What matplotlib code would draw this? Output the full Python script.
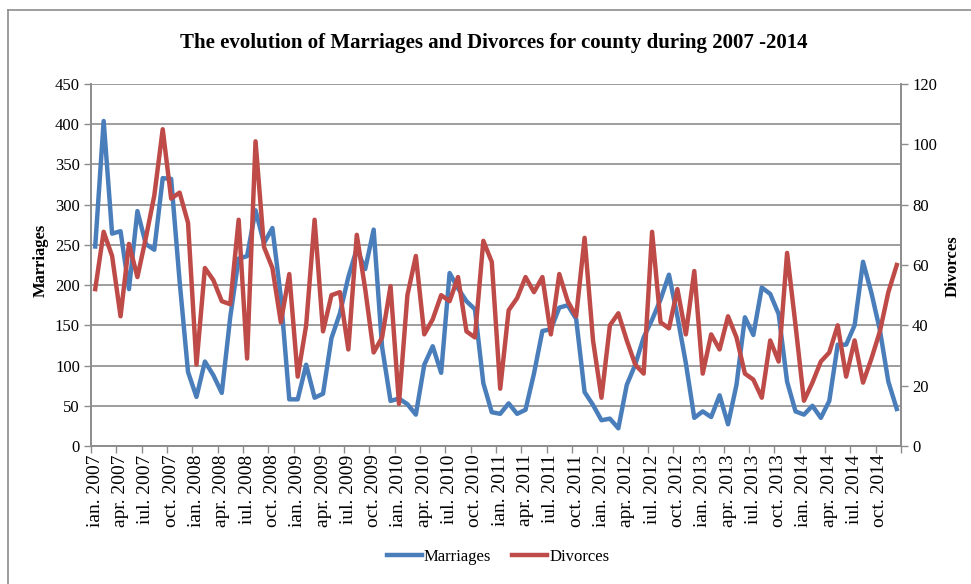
import matplotlib.pyplot as plt
from matplotlib.lines import Line2D

# monthly counts, ian. 2007 .. dec. 2014
years = [2007, 2008, 2009, 2010, 2011, 2012, 2013, 2014]
quarter_months = ['ian.', 'apr.', 'iul.', 'oct.']

marriages = [
    248, 404, 264, 267, 195, 292, 251, 244, 333, 332, 205, 92,
    61, 105, 88, 66, 160, 233, 236, 293, 252, 271, 185, 58,
    58, 101, 60, 65, 134, 165, 210, 245, 220, 269, 123, 56,
    59, 52, 39, 101, 124, 91, 215, 196, 180, 170, 78, 42,
    40, 53, 40, 45, 90, 143, 145, 172, 175, 158, 67, 51,
    32, 34, 22, 76, 101, 135, 157, 182, 213, 161, 103, 35,
    43, 36, 63, 27, 76, 160, 138, 197, 189, 164, 80, 43,
    39, 50, 35, 56, 126, 126, 150, 229, 190, 144, 80, 46,
]
divorces = [
    52, 71, 63, 43, 67, 56, 69, 83, 105, 82, 84, 74,
    27, 59, 55, 48, 47, 75, 29, 101, 66, 59, 41, 57,
    23, 40, 75, 38, 50, 51, 32, 70, 52, 31, 36, 53,
    14, 50, 63, 37, 42, 50, 48, 56, 38, 36, 68, 61,
    19, 45, 49, 56, 51, 56, 37, 57, 48, 43, 69, 35,
    16, 40, 44, 35, 27, 24, 71, 41, 39, 52, 37, 58,
    24, 37, 32, 43, 36, 24, 22, 16, 35, 28, 64, 40,
    15, 21, 28, 31, 40, 23, 35, 21, 29, 38, 51, 60,
]

tick_labels = [f'{m} {y}' for y in years for m in quarter_months]

BLUE = '#4A7EBB'
RED = '#BE4B48'
GRID = '#8C8C8C'
SERIF = ['Liberation Serif', 'DejaVu Serif']

plt.rcParams['font.family'] = SERIF

W, H = 971, 584
fig = plt.figure(figsize=(W / 100, H / 100), dpi=100)
ax = fig.add_axes([91 / W, 1 - 446 / H, 810 / W, 362 / H])
ax2 = ax.twinx()

x = list(range(len(marriages)))
ax.plot(x, marriages, color=BLUE, lw=3.2, solid_joinstyle='round', zorder=3)
ax2.plot(x, divorces, color=RED, lw=3.2, solid_joinstyle='round', zorder=3)

ax.set_xlim(-0.5, len(marriages) - 0.5)
ax.set_ylim(0, 450)
ax2.set_ylim(0, 120)
ax.set_yticks(range(0, 451, 50))
ax2.set_yticks(range(0, 121, 20))

# category labels every 3 months, tick marks on category boundaries
ax.set_xticks(range(0, len(marriages), 3))
ax.set_xticklabels(tick_labels, rotation=90, fontsize=14)
ax.set_xticks([i - 0.5 for i in range(0, len(marriages) + 1, 3)], minor=True)
ax.tick_params(axis='x', which='major', length=0, pad=6)
ax.tick_params(axis='x', which='minor', length=5, color=GRID, width=1)
ax.tick_params(axis='y', length=5, color=GRID, width=1, labelsize=12, pad=3)
ax2.tick_params(axis='y', length=5, color=GRID, width=1, labelsize=12, pad=3)

ax.grid(axis='y', color=GRID, lw=1.2)
ax.set_axisbelow(True)
for a in (ax, ax2):
    a.spines['top'].set_visible(False)
    for s in ('left', 'right', 'bottom'):
        a.spines[s].set_color(GRID)
        a.spines[s].set_linewidth(1.2)

# axis titles
fig.text(41 / W, 1 - 260 / H, 'Marriages', rotation=90, ha='center', va='center',
         fontsize=12, fontweight='bold')
fig.text(953 / W, 1 - 266 / H, 'Divorces', rotation=90, ha='center', va='center',
         fontsize=12, fontweight='bold')

fig.text(494 / W, 1 - 43 / H, 'The evolution of Marriages and Divorces for county during 2007 -2014',
         ha='center', va='center', fontsize=15, fontweight='bold')

handles = [Line2D([], [], color=BLUE, lw=3.2), Line2D([], [], color=RED, lw=3.2)]
fig.legend(handles, ['Marriages', 'Divorces'], loc='center', bbox_to_anchor=(498 / W, 1 - 557 / H),
           ncol=2, frameon=False, fontsize=12, handlelength=2.1, handletextpad=0.1,
           columnspacing=1.3)

# chart frame
fig.add_artist(Line2D([8 / W, 8 / W], [0, 1 - 10 / H], color=GRID, lw=1.2))
fig.add_artist(Line2D([8 / W, 1], [1 - 10 / H, 1 - 10 / H], color=GRID, lw=1.2))

fig.savefig('out.png', dpi=100)
